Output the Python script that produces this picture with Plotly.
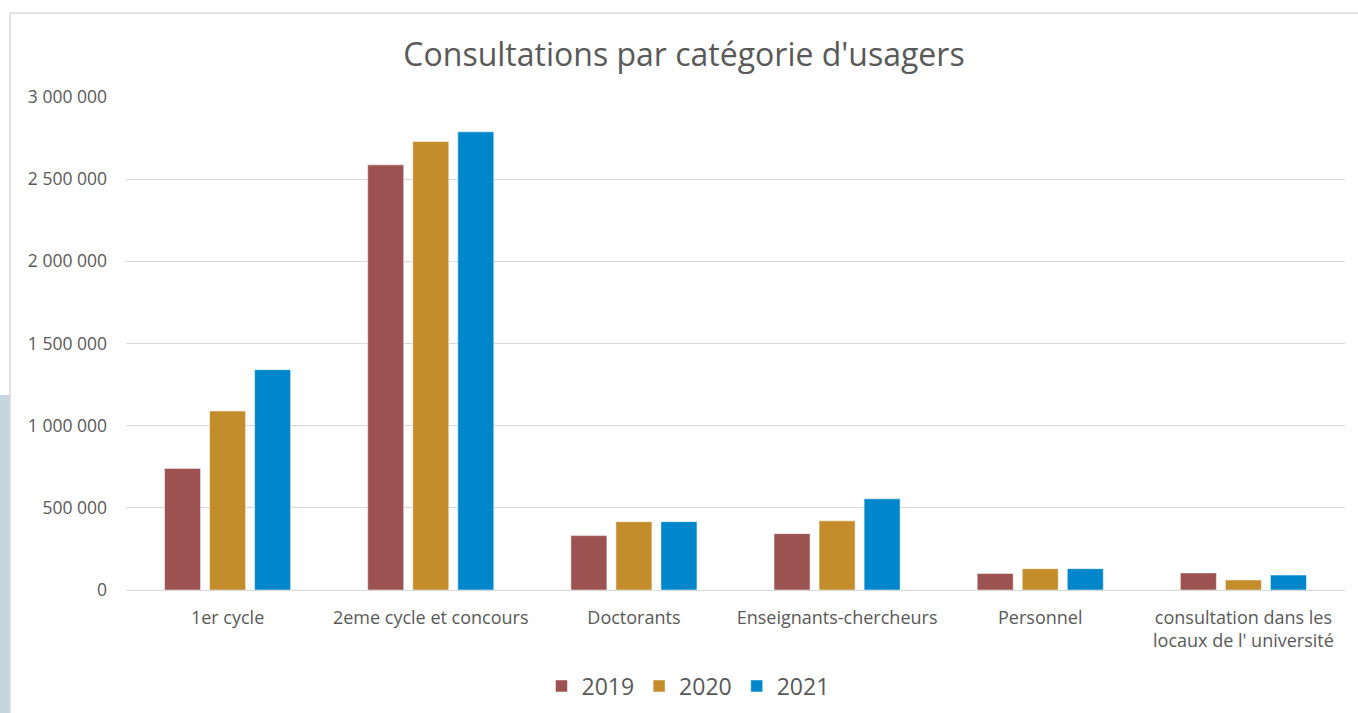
import plotly.graph_objects as go

categories = [
    "1er cycle",
    "2eme cycle et concours",
    "Doctorants",
    "Enseignants-chercheurs",
    "Personnel",
    "consultation dans les<br>locaux de l' université",
]

y2019 = [740000, 2587000, 331000, 343000, 101000, 104000]
y2020 = [1089000, 2729000, 416000, 421000, 130000, 61000]
y2021 = [1341000, 2788000, 416000, 555000, 130000, 91000]

years = ["2019", "2020", "2021"]
colors = ["#9C5251", "#C38D2C", "#0087CB"]

W, H = 1358, 713
L, R, T, B = 126, 13, 97, 123
pw = W - L - R
ph = H - T - B


def px_x(v):
    return (v - L) / pw


def px_y(v):
    return (H - B - v) / ph


fig = go.Figure()

for name, vals, col in zip(years, [y2019, y2020, y2021], colors):
    fig.add_trace(go.Bar(
        x=categories,
        y=vals,
        name=name,
        marker=dict(color=col, line=dict(color="rgba(255,255,255,0.5)", width=1)),
    ))

fig.update_layout(
    width=W,
    height=H,
    barmode="group",
    bargap=0.335,
    bargroupgap=0.2,
    separators=", ",
    paper_bgcolor="white",
    plot_bgcolor="white",
    font=dict(family="Open Sans", color="#595959", size=17),
    margin=dict(l=L, r=R, t=T, b=B, autoexpand=False),
    title=dict(
        text="Consultations par catégorie d'usagers",
        font=dict(size=32, color="#595959"),
        x=px_x(684), xref="paper", xanchor="center",
        y=1 - 55 / H, yref="container", yanchor="middle",
    ),
    legend=dict(
        orientation="h",
        x=px_x(688), xanchor="center",
        y=px_y(686), yanchor="middle",
        font=dict(size=23, color="#595959"),
        itemwidth=30,
    ),
    xaxis=dict(
        showgrid=False,
        showline=False,
        automargin=False,
        ticklabelstandoff=15,
        tickfont=dict(size=18),
    ),
    yaxis=dict(
        range=[0, 3000001],
        dtick=500000,
        tickformat=",d",
        automargin=False,
        gridcolor="#D9D9D9",
        gridwidth=1,
        zeroline=True,
        zerolinecolor="#D9D9D9",
        zerolinewidth=1,
        ticklabelstandoff=18,
        tickfont=dict(size=17.5),
    ),
    shapes=[
        dict(type="rect", xref="paper", yref="paper",
             x0=px_x(0), x1=px_x(10), y0=px_y(720), y1=px_y(395),
             fillcolor="#C5D6E1", line=dict(width=0), layer="below"),
        dict(type="rect", xref="paper", yref="paper",
             x0=px_x(10), x1=px_x(1380), y0=px_y(730), y1=px_y(13),
             fillcolor="rgba(0,0,0,0)", line=dict(color="#D9D9D9", width=1.5),
             layer="below"),
    ],
)

fig.write_html(
    "out.html",
    config={"displayModeBar": False},
    post_script="document.body.style.margin='0px';document.body.style.overflow='hidden';",
)
